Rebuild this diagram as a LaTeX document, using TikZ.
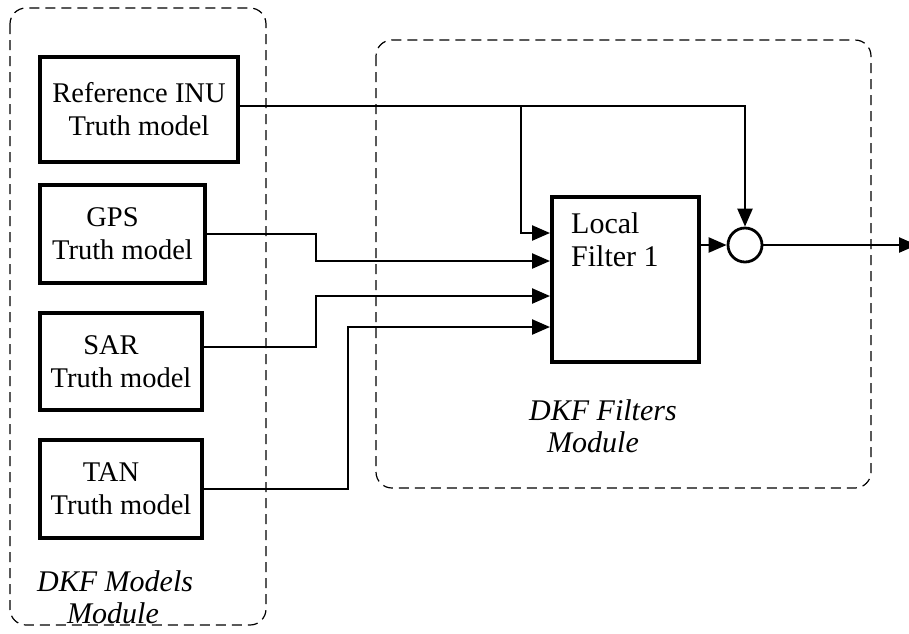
\documentclass[tikz,border=0pt]{standalone}
\usepackage{fontspec}
\setmainfont{Liberation Serif}
\usetikzlibrary{arrows.meta}
\begin{document}
\begin{tikzpicture}[x=1pt,y=-1pt,
  model/.style={draw,line width=4.5pt,minimum width=#1,inner sep=0pt,align=center,
    font=\fontsize{28.5}{33}\selectfont},
  filt/.style={draw,line width=4.5pt,minimum width=147pt,minimum height=165pt,inner sep=0pt},
  wire/.style={line width=2.4pt},
  arr/.tip={Triangle[length=18pt,width=15pt]},
  module/.style={draw,line width=1.2pt,dash pattern=on 10pt off 6pt,rounded corners=16pt},
  lbl/.style={font=\fontsize{30}{32}\selectfont\itshape,align=left,inner sep=0pt,anchor=north west}
]
\useasboundingbox (0,0) rectangle (909,633);
% dashed modules
\draw[module] (10,8) rectangle (266,625);
\draw[module] (376,40) rectangle (871,488);
% model boxes
\node[model=198pt,minimum height=105pt] (Ref) at (139,109.5) {Reference INU\\Truth model};
\node[model=165pt,minimum height=98pt] (GPS) at (122.5,234) {\hspace*{-20pt}GPS\\Truth model};
\node[model=162pt,minimum height=97pt] (SAR) at (121,361.5) {\hspace*{-20pt}SAR\\Truth model};
\node[model=162pt,minimum height=98pt] (TAN) at (121,489) {\hspace*{-20pt}TAN\\Truth model};
% filter
\node[filt] (F) at (625.5,279.5) {};
\node[anchor=north west,inner sep=0pt,align=left,font=\fontsize{30}{33}\selectfont] (Ft) at (571,212) {Local\\Filter 1};
% summing junction
\node[draw,circle,line width=2.8pt,minimum size=34pt,inner sep=0pt] (sum) at (745,245) {};
% labels
\node[lbl] (lm) at (37,570) {DKF Models\\\hspace*{30pt}Module};
\node[lbl] (lf) at (529,399) {DKF Filters\\\hspace*{18pt}Module};
% coordinates
\coordinate (yRef) at (0,106);
\coordinate (ySAR) at (0,347);
\coordinate (br) at (521,106);
\coordinate (in1) at (550,233);
\coordinate (in2) at (550,261);
\coordinate (in3) at (550,296);
\coordinate (in4) at (550,327);
\coordinate (out) at (917,245);
% connectors
\draw[wire,-arr] (Ref.east |- yRef) -| (sum.north);
\draw[wire,-arr] (br) |- (in1);
\draw[wire,-arr] (GPS.east) -- ++(109,0) |- (in2);
\draw[wire,-arr] (SAR.east |- ySAR) -- ++(112,0) |- (in3);
\draw[wire,-arr] (TAN.east) -- ++(144,0) |- (in4);
\draw[wire,-arr] (F.east |- sum) -- (sum.west);
\draw[wire,-arr] (sum.east) -- (out);
\end{tikzpicture}
\end{document}
